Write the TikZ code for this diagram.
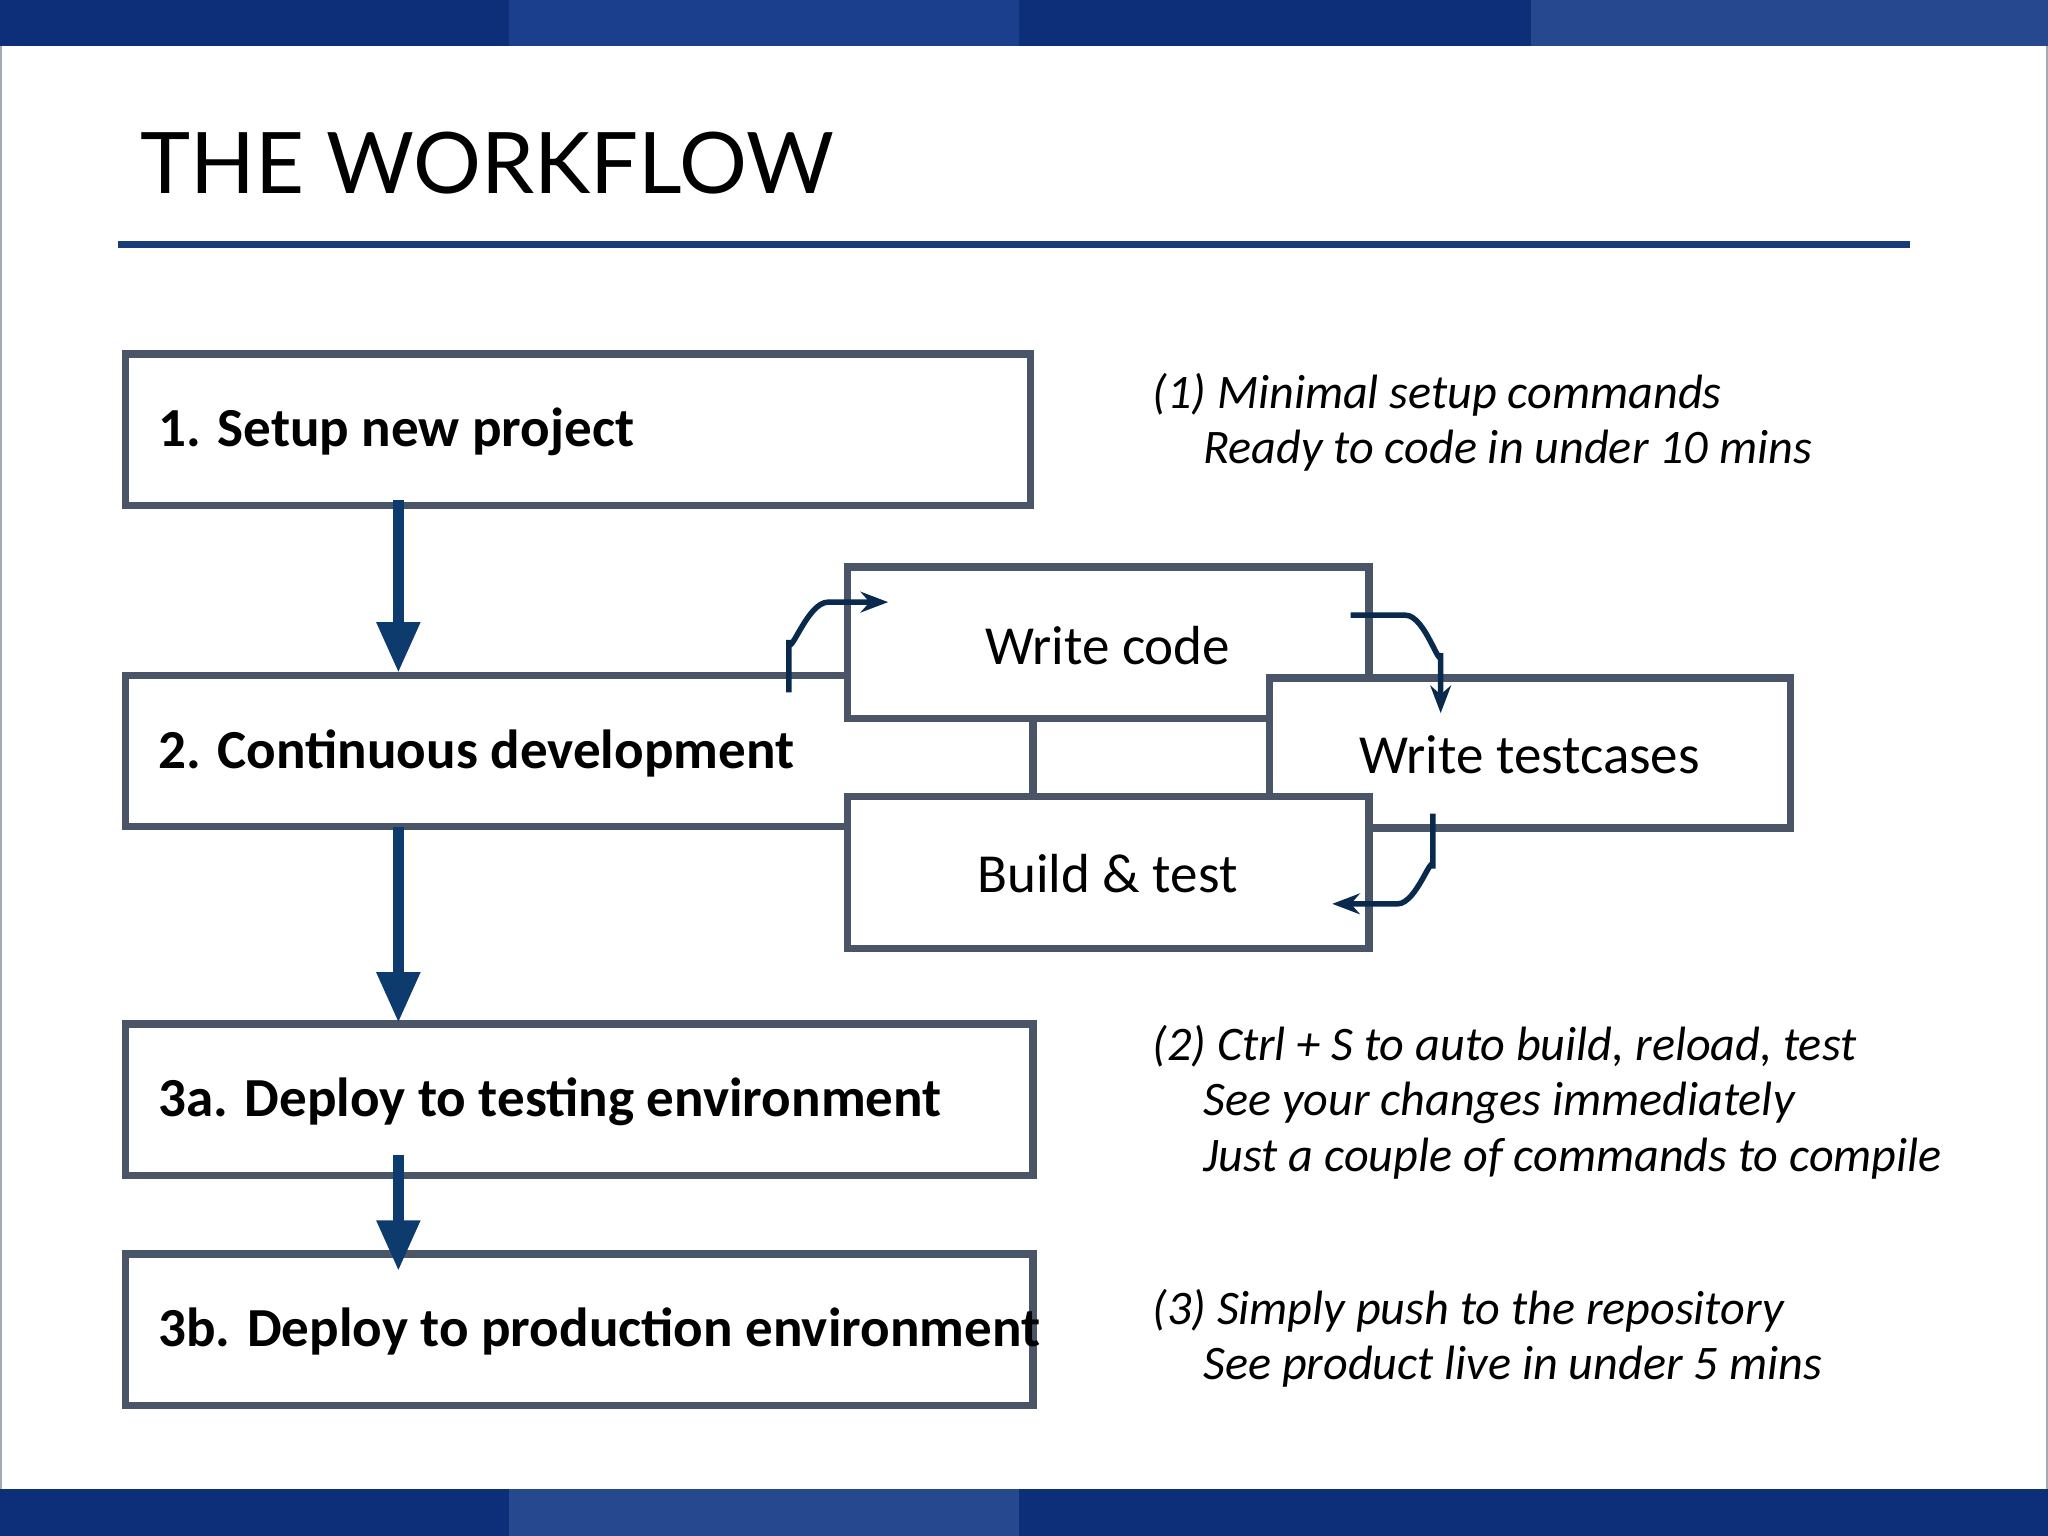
\documentclass[tikz,border=0pt]{standalone}
\usepackage{fontspec}
\setmainfont{Carlito}
\newfontfamily\titlefont{Lato}
\usetikzlibrary{arrows.meta}
\definecolor{barA}{HTML}{0D2F7A}
\definecolor{barB}{HTML}{1B3F8C}
\definecolor{barC}{HTML}{26488F}
\definecolor{boxc}{HTML}{4A5568}
\definecolor{arr}{HTML}{0D3B6E}
\definecolor{rulec}{HTML}{1A3A7A}
\tikzset{
 box/.style={draw=boxc,line width=3.2pt,fill=white},
 boxtxt/.style={anchor=base west,font=\fontsize{24}{28}\selectfont\bfseries},
 ctxt/.style={font=\fontsize{24}{28}\selectfont},
 note/.style={anchor=base west,font=\fontsize{21}{25}\selectfont\itshape},
 bigarr/.style={draw=arr,line width=4.5pt,-{Triangle[length=22pt,width=18pt]}},
 loop/.style={draw=arr!70!black,line width=2.4pt,-{Stealth[length=12pt,width=9pt]}},
}
\begin{document}
\begin{tikzpicture}[x=0.02cm,y=-0.02cm]
\useasboundingbox (0,0) rectangle (1568,1176);
\fill[white] (0,0) rectangle (1568,1176);
\draw[boxc!50,line width=1pt] (0.5,0) -- (0.5,1176) (1567.5,0)--(1567.5,1176);
% bars
\fill[barA] (0,0) rectangle (390,35);
\fill[barB] (390,0) rectangle (780,35);
\fill[barA] (780,0) rectangle (1172,35);
\fill[barC] (1172,0) rectangle (1568,35);
\fill[barA] (0,1140) rectangle (390,1176);
\fill[barC] (390,1140) rectangle (780,1176);
\fill[barA] (780,1140) rectangle (1568,1176);
% title
\node[anchor=base west,inner sep=0,font=\titlefont\fontsize{37}{40}\selectfont] (title) at (107,148) {THE WORKFLOW};
\draw[rulec,line width=3pt] (90,187) coordinate (r1) -- (1462,187) coordinate (r2);
% boxes
\draw[box] (96,271) rectangle (789,387);
\node[boxtxt,inner sep=0] (t1) at (121,342) {1. Setup new project};
\draw[box] (96,517) rectangle (791,633);
\node[boxtxt,inner sep=0] (t2) at (121,588) {2. Continuous development};
\draw[box] (649,434) rectangle (1048,550);
\node[ctxt] (wc) at (848,494) {Write code};
\draw[box] (972,519) rectangle (1371,634);
\node[ctxt] (wt) at (1171,578) {Write testcases};
\draw[box] (649,610) rectangle (1048,726);
\node[ctxt] (bt) at (848,669) {Build \& test};
\draw[box] (96,784) rectangle (791,900);
\node[boxtxt,inner sep=0] (t3a) at (121,855) {3a. Deploy to testing environment};
\draw[box] (96,960) rectangle (791,1076);
\node[boxtxt,inner sep=0] (t3b) at (121,1031) {3b. Deploy to production environment};
% big arrows
\coordinate (a1s) at (305,383); \coordinate (a1e) at (305,515);
\coordinate (a2s) at (305,633); \coordinate (a2e) at (305,783);
\coordinate (a3s) at (305,884); \coordinate (a3e) at (305,973);
\draw[bigarr] (a1s) -- (a1e);
\draw[bigarr] (a2s) -- (a2e);
\draw[bigarr] (a3s) -- (a3e);
% loop arrows
\draw[loop] (604,530) -- (604,490) to[out=-90,in=180] (634,461) -- (680,461);
\draw[loop] (1034,471) -- (1076,471) to[out=0,in=-90] (1103,500) -- (1103,546);
\draw[loop] (1097,623) -- (1097,665) to[out=90,in=0] (1070,692) -- (1020,692);
% notes
\node[note,inner sep=0] (n1a) at (882,313) {(1) Minimal setup commands};
\node[note,inner sep=0] (n1b) at (921,355) {Ready to code in under 10 mins};
\node[note,inner sep=0] (n2a) at (882,812) {(2) Ctrl + S to auto build, reload, test};
\node[note,inner sep=0] (n2b) at (921,854) {See your changes immediately};
\node[note,inner sep=0] (n2c) at (921,897) {Just a couple of commands to compile};
\node[note,inner sep=0] (n3a) at (882,1014) {(3) Simply push to the repository};
\node[note,inner sep=0] (n3b) at (921,1056) {See product live in under 5 mins};
\end{tikzpicture}
\end{document}
